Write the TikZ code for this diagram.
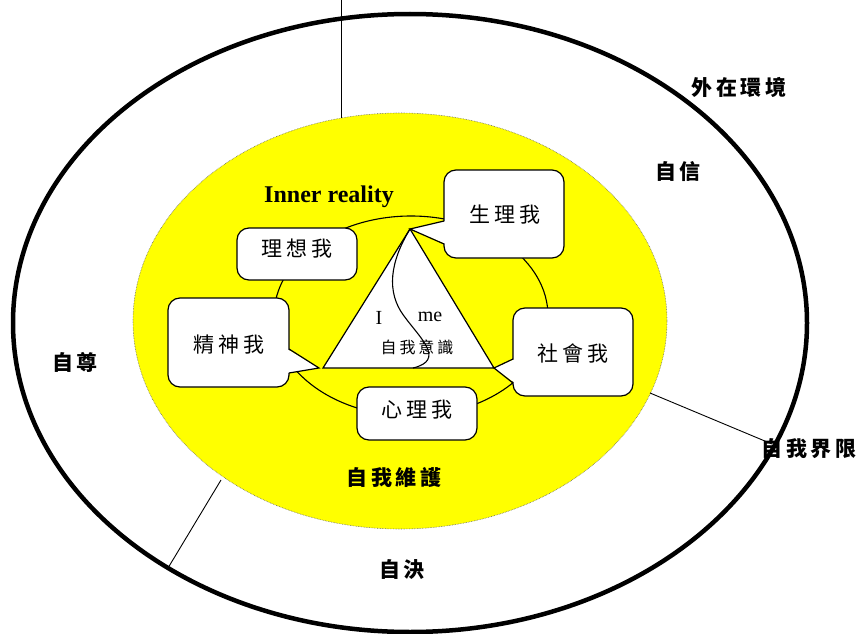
\documentclass[tikz,border=0pt]{standalone}
\usepackage{fontspec}
\setmainfont{Liberation Serif}
\newfontfamily\cjk{Noto Sans CJK TC}[LetterSpace=18]
\definecolor{inneryellow}{RGB}{255,255,0}
\begin{document}
\begin{tikzpicture}[x=1pt,y=-1pt,
  box/.style={draw=black,line width=1.2pt,fill=white,rounded corners=12pt},
  ptr/.style={draw=black,line width=1.2pt},
  boxtext/.style={font=\cjk\fontsize{21}{21}\selectfont,inner sep=0pt},
  outer/.style={font=\cjk\bfseries\fontsize{21}{21}\selectfont,inner sep=0pt},
  thin/.style={line width=0.9pt}]
\useasboundingbox (0,0) rectangle (860,634);
% yellow inner reality
\fill[inneryellow] (400,321) ellipse [x radius=267,y radius=208];
\draw[densely dotted,line width=0.6pt,black!60] (400,321) ellipse [x radius=267,y radius=208];
% outer boundary
\draw[line width=4.5pt] (410,323) ellipse [x radius=397,y radius=309];
% boundary lines
\coordinate (v1) at (341,0); \coordinate (v2) at (341,118);
\coordinate (r1) at (650,393); \coordinate (r2) at (772,444);
\coordinate (l1) at (221,480); \coordinate (l2) at (168,568);
\draw[thin] (v1) -- (v2);
\draw[thin] (r1) -- (r2);
\draw[thin] (l1) -- (l2);
% ring
\draw[line width=1.1pt] (411,316) ellipse [x radius=137,y radius=100];
% triangle
\coordinate (apex) at (410,229);
\coordinate (bl) at (323,368);
\coordinate (br) at (494,368);
\draw[line width=1.2pt,fill=white] (apex) -- (bl) -- (br) -- cycle;
\draw[line width=1.1pt] (apex) .. controls (390,262) and (386,292) .. (404,316)
  .. controls (420,338) and (446,360) .. (413,368);
\node[font=\fontsize{20}{20}\selectfont,inner sep=0pt] (I) at (379,318) {I};
\node[font=\fontsize{20}{20}\selectfont,inner sep=0pt] (me) at (430,317) {me};
\node[font=\cjk\fontsize{16}{16}\selectfont,inner sep=0pt] (zw) at (417,347) {自我意識};
% callout 生理我
\draw[box] (444,170) rectangle (564,258);
\fill[white] (apex) -- (446,221) -- (446,244) -- cycle;
\draw[ptr] (444,221) -- (apex) -- (444,244);
% callout 社會我
\coordinate (t2) at (494,368);
\draw[box] (513,308) rectangle (633,396);
\fill[white] (t2) -- (515,359) -- (515,383) -- cycle;
\draw[ptr] (513,359) -- (t2) -- (513,383);
% callout 精神我
\coordinate (t3) at (319,368);
\draw[box] (168,298) rectangle (289,387);
\fill[white] (t3) -- (287,349) -- (287,373) -- cycle;
\draw[ptr] (289,349) -- (t3) -- (289,373);
% plain boxes
\draw[box] (237,228) rectangle (357,280);
\draw[box] (357,387) rectangle (477,440);
\node[boxtext] (sl) at (505,215) {生理我};
\node[boxtext] (lx) at (297,249) {理想我};
\node[boxtext] (js) at (229,345) {精神我};
\node[boxtext] (sh) at (573,354) {社會我};
\node[boxtext] (xl) at (417,410) {心理我};
% labels
\node[font=\bfseries\fontsize{24}{24}\selectfont,inner sep=0pt] (ir) at (329,197) {Inner reality};
\node[outer] (wz) at (739,87) {外在環境};
\node[outer] (zx) at (678,172) {自信};
\node[outer] (zz) at (75,362) {自尊};
\node[outer] (jx) at (809,449) {自我界限};
\node[outer] (zj) at (402,570) {自決};
\node[outer] (wh) at (394,478) {自我維護};
\end{tikzpicture}
\end{document}
